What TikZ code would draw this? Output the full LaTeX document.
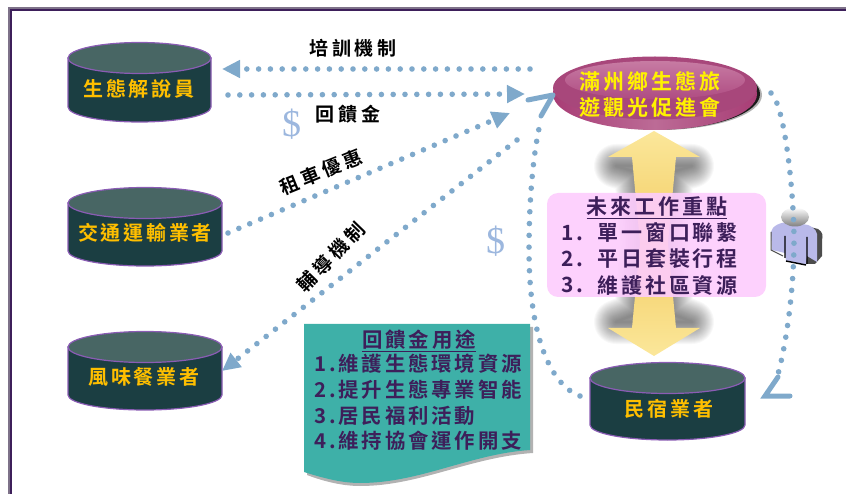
\documentclass[tikz,border=0pt]{standalone}
\usepackage{fontspec}
\usetikzlibrary{arrows.meta,shadings}
\setmainfont{Noto Sans CJK TC}[BoldFont={* Bold},LetterSpace=14]
\newfontfamily\dollarfont{Liberation Serif}
\newfontfamily\widefont{Noto Sans CJK TC Bold}[LetterSpace=20]
\definecolor{cylside}{HTML}{1B3E42}
\definecolor{cyltop}{HTML}{486664}
\definecolor{cyledge}{HTML}{8A5CB4}
\definecolor{gold}{HTML}{FFBF00}
\definecolor{deep}{HTML}{3D1F5A}
\definecolor{dotblue}{HTML}{7FA9CB}
\definecolor{teal0}{HTML}{3EB0A8}
\definecolor{pinkbox}{HTML}{FDCCFD}
\definecolor{ylight}{HTML}{FBE79A}
\definecolor{ydark}{HTML}{F3CC63}
\definecolor{hubrim}{HTML}{A83D75}
\definecolor{hubmid}{HTML}{BC6B96}
\definecolor{hubface}{HTML}{A8477B}
\definecolor{hubhi}{HTML}{C77BA3}
\definecolor{hublo}{HTML}{AF4C82}
\definecolor{lav}{HTML}{B9B9E9}
\tikzset{
  x=1pt,y=-1pt,
  cyllabel/.style={text=gold,font=\bfseries\fontsize{20}{20}\selectfont,inner sep=0pt},
  linklabel/.style={text=black,font=\widefont\fontsize{19}{19}\selectfont,inner sep=0pt},
  hublabel/.style={text=yellow,font=\bfseries\fontsize{21}{21}\selectfont,inner sep=0pt},
  boxlabel/.style={text=deep,font=\bfseries\fontsize{21}{21}\selectfont,inner sep=0pt,anchor=west},
  doclabel/.style={text=deep,font=\bfseries\fontsize{20.4}{20.4}\selectfont,inner sep=0pt,anchor=west},
  dotted link/.style={draw=dotblue,line width=5.6pt,line cap=round,dash pattern=on 0pt off 11.8pt},
  solid head/.style={-{Triangle[length=18pt,width=17pt,color=dotblue]}},
  open head/.style={draw=dotblue,line width=5pt,line join=miter,line cap=round},
  dollar/.style={text=dotblue!90!blue,opacity=.7,font=\dollarfont\fontsize{38}{38}\selectfont,inner sep=0pt},
}
\newcommand{\cyl}[5]{% name, x0, x1, ytop-centre, ybottom-centre
  \path[fill=cylside,draw=cyledge,line width=1.2pt]
    (#2,#4) -- (#2,#5) arc[start angle=180,end angle=0,x radius={(#3-#2)/2},y radius=15] -- (#3,#4) -- cycle;
  \path[fill=cyltop,draw=cyledge,line width=1.2pt] ({(#2+#3)/2},#4) ellipse[x radius={(#3-#2)/2},y radius=15.5];
  \coordinate (#1) at ({(#2+#3)/2},{(#4+#5)/2});
}
\begin{document}
\begin{tikzpicture}
\useasboundingbox (0,0) rectangle (846,494);
% frame
\draw[draw=black!35!deep!60!white,line width=3.5pt] (9.5,494) -- (9.5,9) -- (846,9);
\draw[draw=deep,line width=2pt] (11,494) -- (11,10.5) -- (846,10.5);

% glow behind the yellow arrows
\foreach \w in {2,4,...,44}{
  \draw[black,opacity=.028,line width=\w pt,line join=round]
    (616,166) -- (692,166) -- (672,172) -- (666,243) -- (672,314) -- (692,322) -- (616,322) -- (636,314) -- (642,243) -- (636,172) -- cycle;
}
% yellow arrows
\shade[top color=ylight,bottom color=ydark] (654,131) -- (700,157) -- (676,157) -- (668,243) -- (640,243) -- (632,157) -- (608,157) -- cycle;
\shade[bottom color=ylight,top color=ydark] (654,356) -- (700,328) -- (676,328) -- (668,243) -- (640,243) -- (632,328) -- (608,328) -- cycle;

% hub ellipse
\fill[black,opacity=.3] (660,95) ellipse[x radius=102,y radius=35];
\fill[black,opacity=.85] (658,94) ellipse[x radius=102,y radius=35.5];
\shade[left color=hubrim,right color=hubrim,middle color=hubmid] (655,94) ellipse[x radius=102,y radius=36];
\fill[color=hubface] (655,88) ellipse[x radius=102,y radius=31.5];
\shade[top color=hubhi,bottom color=hublo] (655,80) ellipse[x radius=90,y radius=19];
\node[hublabel] (hubA) at (650,82) {滿州鄉生態旅};
\node[hublabel] (hubB) at (650,107) {遊觀光促進會};

% pink box
\fill[pinkbox,opacity=.9,rounded corners=11pt] (547,193) rectangle (766,297);
\node[boxlabel,anchor=center] (futureT) at (657,208) {\underline{未來工作重點}};
\node[boxlabel] (f1n) at (561,233) {1.};
\node[boxlabel] (f1) at (597,233) {單一窗口聯繫};
\node[boxlabel] (f2n) at (561,259) {2.};
\node[boxlabel] (f2) at (597,259) {平日套裝行程};
\node[boxlabel] (f3n) at (561,285) {3.};
\node[boxlabel] (f3) at (597,285) {維護社區資源};

% cylinders
\cyl{cA}{68}{211}{58}{107}
\node[cyllabel] (lA) at (139,89) {生態解說員};
\cyl{cB}{68}{222}{203}{251}
\node[cyllabel] (lB) at (145,233) {交通運輸業者};
\cyl{cC}{68}{222}{347}{395}
\node[cyllabel] (lC) at (144,377) {風味餐業者};
\cyl{cD}{590}{745}{378}{425}
\node[cyllabel] (lD) at (669,409) {民宿業者};

% teal document
\fill[gray!60] (307,327) -- (533,327) -- (533,453) .. controls (470,457) and (420,486) .. (360,486) .. controls (340,486) and (320,480) .. (307,475) -- cycle;
\fill[teal0] (304,324) -- (530,324) -- (530,450) .. controls (470,454) and (420,483) .. (360,483) .. controls (340,483) and (320,477) .. (304,472) -- cycle;
\node[doclabel,anchor=center] (useT) at (419,341) {\underline{回饋金用途}};
\node[doclabel] (u1) at (314,364) {1.維護生態環境資源};
\node[doclabel] (u2) at (314,390) {2.提升生態專業智能};
\node[doclabel] (u3) at (314,416) {3.居民福利活動};
\node[doclabel] (u4) at (314,441) {4.維持協會運作開支};

% person
\fill[black!70] (806,226) -- (818,229) .. controls (823,232) and (823,236) .. (822,240) -- (822,256) -- (815,264) -- (806,264) -- cycle;
\fill[color=lav] (771,232) .. controls (772,226) and (780,222) .. (790,222) -- (808,225) .. controls (815,228) and (818,232) .. (817,238) -- (817,262) -- (807,256) -- (806,265) -- (786,261) -- (785,253) -- (772,250) -- cycle;
\draw[black,line width=1.4pt] (785,236) -- (785,258) (807,237) -- (807,264) (786,261) -- (806,265);
\draw[black!70,line width=1pt] (771,232) -- (771,250) -- (783,256);
\shade[top color=white,bottom color=gray] (795,217) ellipse[x radius=14,y radius=9.5];

% connectors
\coordinate (t1s) at (530,69);
\coordinate (t1e) at (222,69);
\draw[dotted link,solid head] (t1s) -- (t1e);
\coordinate (t2s) at (228,95);
\coordinate (t2e) at (525,94);
\draw[dotted link,solid head] (t2s) -- (t2e);
\coordinate (t3s) at (228,233);
\coordinate (t3e) at (510,113);
\draw[dotted link,solid head] (t3s) -- (t3e);
\coordinate (t4s) at (517,140);
\coordinate (t4e) at (222,371);
\draw[dotted link,solid head] (t4s) -- (t4e);

\coordinate (cl1) at (580,396);
\coordinate (cl2) at (529,250);
\coordinate (cl3) at (540,124);
\draw[dotted link] (cl1) .. controls (550,385) and (529,335) .. (cl2) .. controls (529,195) and (534,150) .. (cl3);
\draw[open head] (528,100) -- (553,95) (541,116) -- (553,95);

\coordinate (cr1) at (771,93);
\coordinate (cr2) at (794,240);
\coordinate (cr3) at (778,374);
\draw[dotted link] (cr1) .. controls (785,105) and (794,195) .. (cr2) .. controls (794,290) and (786,345) .. (cr3);
\draw[open head] (778,377) -- (765,396) -- (790,396);

% labels
\node[linklabel] (tA) at (353,48) {培訓機制};
\node[linklabel] (tB) at (348,114) {回饋金};
\node[linklabel,rotate=22] (tC) at (321,172) {租車優惠};
\node[linklabel,rotate=46] (tD) at (331,257) {輔導機制};
\node[dollar] (dA) at (292,124) {\$};
\node[dollar] (dB) at (496,241) {\$};
\end{tikzpicture}
\end{document}
